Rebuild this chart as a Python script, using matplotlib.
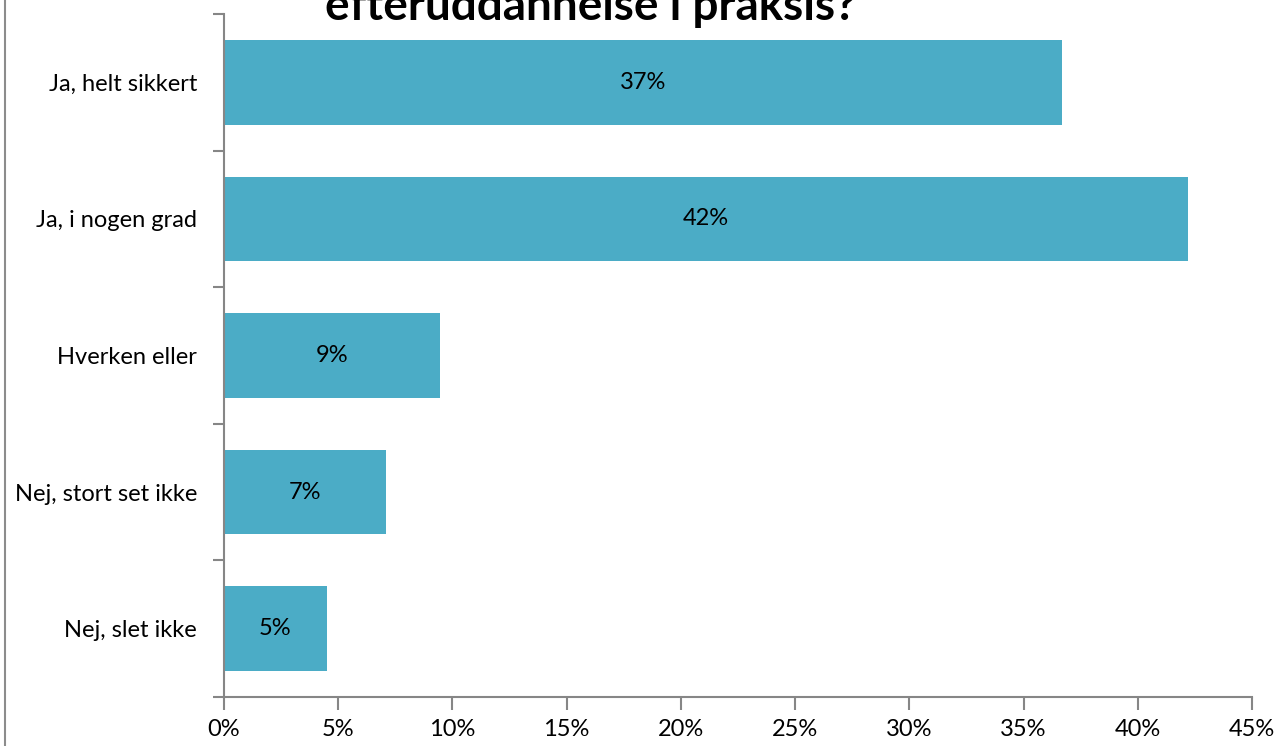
import matplotlib
matplotlib.use("Agg")
import matplotlib.pyplot as plt
from matplotlib.lines import Line2D
from matplotlib.ticker import FixedLocator, PercentFormatter

categories = ["Ja, helt sikkert", "Ja, i nogen grad", "Hverken eller",
              "Nej, stort set ikke", "Nej, slet ikke"]
values = [36.7, 42.2, 9.45, 7.1, 4.5]
bar_labels = ["37%", "42%", "9%", "7%", "5%"]
x_ticks = [0, 5, 10, 15, 20, 25, 30, 35, 40, 45]
title_line = "efteruddannelse i praksis?"

plt.rcParams['font.family'] = ['Lato', 'DejaVu Sans']

W, H = 1278, 746
fig = plt.figure(figsize=(W / 100, H / 100), dpi=100)
ax = fig.add_axes([224 / W, 1 - 697 / H, (1252 - 224) / W, (697 - 14) / H])

n = len(categories)
ypos = list(range(n))
bar_color = "#4BACC6"
ax.barh(ypos, values, height=0.62, color=bar_color, zorder=2)
for y, v, lab in zip(ypos, values, bar_labels):
    ax.text(v / 2, y, lab, ha="center", va="center", fontsize=17, color="black")

ax.set_xlim(0, 45)
ax.set_ylim(n - 0.5, -0.5)
ax.set_xticks(x_ticks)
ax.xaxis.set_major_formatter(PercentFormatter(decimals=0))
ax.set_yticks(ypos)
ax.set_yticklabels(categories)
ax.yaxis.set_minor_locator(FixedLocator([i - 0.5 for i in range(n + 1)]))

axis_col = "#868686"
for s in ["top", "right"]:
    ax.spines[s].set_visible(False)
for s in ["left", "bottom"]:
    ax.spines[s].set_color(axis_col)
    ax.spines[s].set_linewidth(1.5)

ax.tick_params(axis="y", which="major", length=0, pad=19.5, labelsize=17)
ax.tick_params(axis="y", which="minor", length=8, width=1.5, color=axis_col)
ax.tick_params(axis="x", which="major", length=9, width=1.5, color=axis_col,
               labelsize=17, pad=7)

fig.text(591 / W, 1 - 20 / H, title_line, ha="center", va="baseline",
         fontsize=33, fontweight="bold")

fig.add_artist(Line2D([5 / W, 5 / W], [0, 1], transform=fig.transFigure,
                      color="#8c8c8c", linewidth=1.5))

fig.savefig("out.png", dpi=100)
